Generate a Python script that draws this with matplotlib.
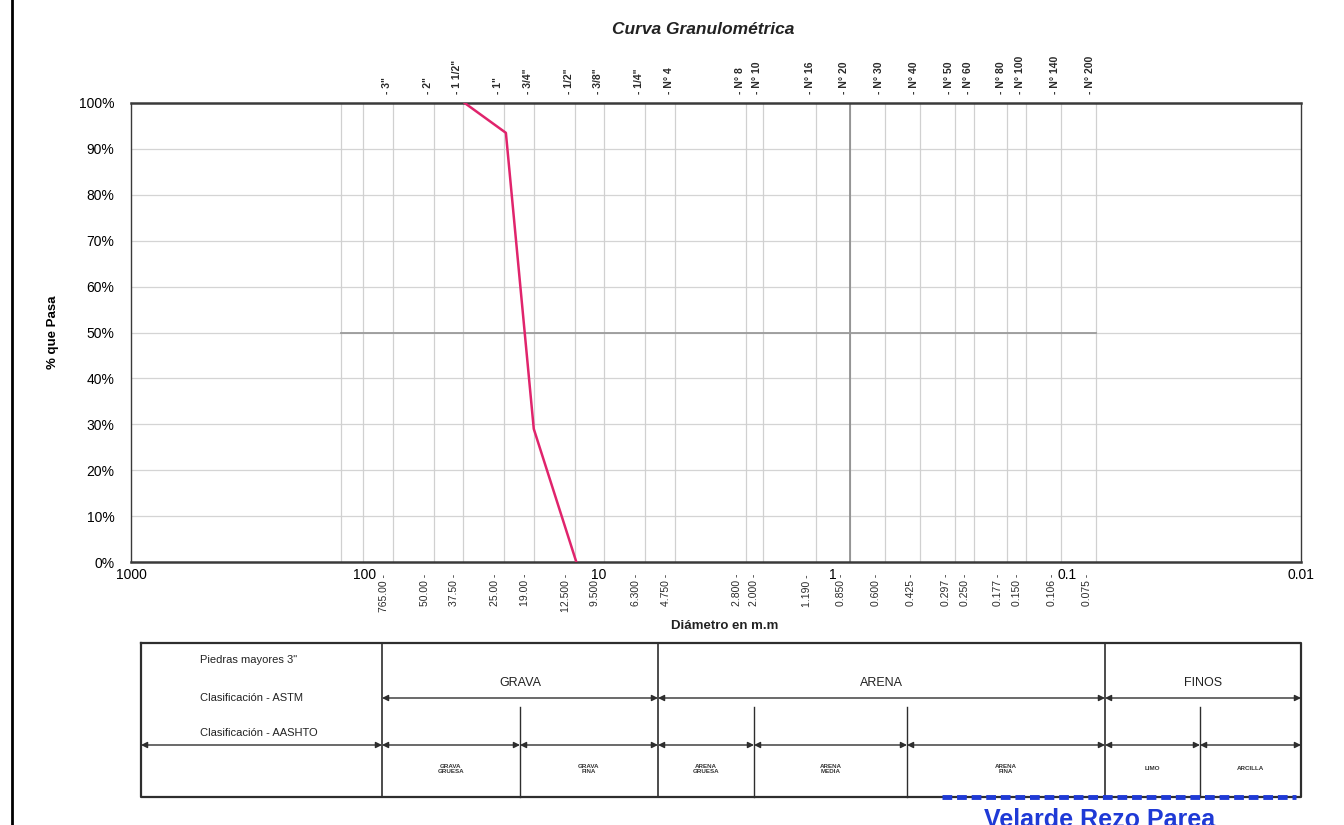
import numpy as np
import matplotlib.pyplot as plt
from matplotlib.transforms import offset_copy

plt.rcParams['font.family'] = ['Liberation Sans', 'DejaVu Sans']

# sieve series (opening in mm)
sieve_names = ['3"', '2"', '1 1/2"', '1"', '3/4"', '1/2"', '3/8"', '1/4"', 'N° 4',
               'N° 8', 'N° 10', 'N° 16', 'N° 20', 'N° 30', 'N° 40', 'N° 50', 'N° 60',
               'N° 80', 'N° 100', 'N° 140', 'N° 200']
sieve_mm = [76.2, 50.8, 38.1, 25.4, 19.05, 12.7, 9.525, 6.35, 4.75,
            2.36, 2.0, 1.18, 0.85, 0.6, 0.425, 0.3, 0.25,
            0.18, 0.15, 0.106, 0.075]
sieve_text = ['765.00', '50.00', '37.50', '25.00', '19.00', '12.500', '9.500', '6.300', '4.750',
              '2.800', '2.000', '1.190', '0.850', '0.600', '0.425', '0.297', '0.250',
              '0.177', '0.150', '0.106', '0.075']
extra_grid_mm = [127.0, 101.6]

# tested sample
diam = [37.5, 25.0, 19.0, 12.5]
pasa = [100.0, 93.5, 29.0, 0.0]

decades = [1000, 100, 10, 1, 0.1, 0.01]
decade_text = ['1000', '100', '10', '1', '0.1', '0.01']

fig = plt.figure(figsize=(13.44, 8.25), dpi=100)

# page overlay in pixel units (table, borders, stamp)
page = fig.add_axes([0, 0, 1, 1])
page.set_xlim(0, 1344)
page.set_ylim(825, 0)
page.axis('off')

ax = fig.add_axes([131 / 1344, 1 - 562 / 825, 1170 / 1344, 459 / 825])
ax.set_xscale('log')
ax.set_xlim(1000, 0.01)
ax.set_ylim(0, 100)

for y in range(10, 100, 10):
    ax.axhline(y, color='#d4d4d4', lw=0.9, zorder=1)
for d in sieve_mm + extra_grid_mm:
    ax.axvline(d, color='#d0d0d0', lw=0.9, zorder=1)
ax.axvline(0.85, color='#8a8a8a', lw=1.2, zorder=2)
ax.plot([127.0, 0.075], [50, 50], color='#9a9a9a', lw=1.3, zorder=2)

ax.plot(diam, pasa, color='#e0246c', lw=1.8, zorder=5)

ax.set_yticks(range(0, 101, 10))
ax.set_yticklabels([f'{v}%' for v in range(0, 101, 10)], fontsize=10)
ax.tick_params(axis='y', length=0, pad=12)
ax.set_xticks([])
ax.xaxis.set_minor_locator(plt.NullLocator())
for side, spine in ax.spines.items():
    spine.set_color('#3a3a3a')
    spine.set_linewidth(1.8 if side in ('top', 'bottom') else 1.0)

ax.set_ylabel('% que Pasa', fontsize=9.5, fontweight='bold', labelpad=14)

trans_top = offset_copy(ax.get_xaxis_transform(), fig=fig, x=-6, y=9, units='dots')
trans_bot = offset_copy(ax.get_xaxis_transform(), fig=fig, x=-9, y=-12, units='dots')
for d, name, txt in zip(sieve_mm, sieve_names, sieve_text):
    ax.text(d, 1.0, '- ' + name, rotation=90, ha='center', va='bottom',
            fontsize=7.5, fontweight='bold', transform=trans_top, color='#2a2a2a')
    ax.text(d, 0.0, txt + ' -', rotation=90, ha='center', va='top',
            fontsize=7.5, transform=trans_bot, color='#2a2a2a')

trans_dec = offset_copy(ax.get_xaxis_transform(), fig=fig, x=0, y=-6, units='dots')
for d, t in zip(decades, decade_text):
    ax.text(d, 0.0, t, ha='center', va='top', fontsize=10, transform=trans_dec)

fig.text(703 / 1344, 1 - 29 / 825, 'Curva Granulométrica', ha='center', va='center',
         fontsize=12.5, fontweight='bold', fontstyle='italic', color='#222222')
fig.text(725 / 1344, 1 - 626 / 825, 'Diámetro en m.m', ha='center', va='center',
         fontsize=9.5, fontweight='bold', color='#222222')

# page border
page.plot([12, 12], [0, 825], color='black', lw=2)

# classification table
dark = '#2e2e2e'
page.plot([141, 1301, 1301, 141, 141], [643, 643, 797, 797, 643], color=dark, lw=1.6)
for x in [382, 658, 1105]:
    page.plot([x, x], [643, 797], color=dark, lw=1.2)
for x in [520, 754, 907, 1200]:
    page.plot([x, x], [707, 797], color=dark, lw=1.0)


def span(x0, x1, y):
    page.annotate('', xy=(x1, y), xytext=(x0, y),
                  arrowprops=dict(arrowstyle='<|-|>', mutation_scale=9, lw=1.0,
                                  color=dark, shrinkA=0, shrinkB=0))


astm = [(382, 658, 'GRAVA'), (658, 1105, 'ARENA'), (1105, 1301, 'FINOS')]
for x0, x1, name in astm:
    span(x0, x1, 698)
    page.text((x0 + x1) / 2, 683, name, ha='center', va='center', fontsize=9, color='#222222')

aashto = [(141, 382, ''), (382, 520, 'GRAVA\nGRUESA'), (520, 658, 'GRAVA\nFINA'),
          (658, 754, 'ARENA\nGRUESA'), (754, 907, 'ARENA\nMEDIA'), (907, 1105, 'ARENA\nFINA'),
          (1105, 1200, 'LIMO'), (1200, 1301, 'ARCILLA')]
for x0, x1, name in aashto:
    span(x0, x1, 745)
    if name:
        page.text((x0 + x1) / 2, 769, name, ha='center', va='center', fontsize=4.5,
                  fontweight='bold', color='#333333', linespacing=1.1)

for y, t in [(660, 'Piedras mayores 3"'), (698, 'Clasificación - ASTM'),
             (733, 'Clasificación - AASHTO')]:
    page.text(200, y, t, ha='left', va='center', fontsize=8, color='#222222')

# stamp
page.plot([942, 1296], [797, 797], color='#1f3ad6', lw=3.5, ls=(0, (2, 1)))
page.text(1100, 820, 'Velarde Rezo Parea', ha='center', va='center', fontsize=18,
          fontweight='bold', color='#1f3ad6')

fig.savefig('out.png', dpi=100)
